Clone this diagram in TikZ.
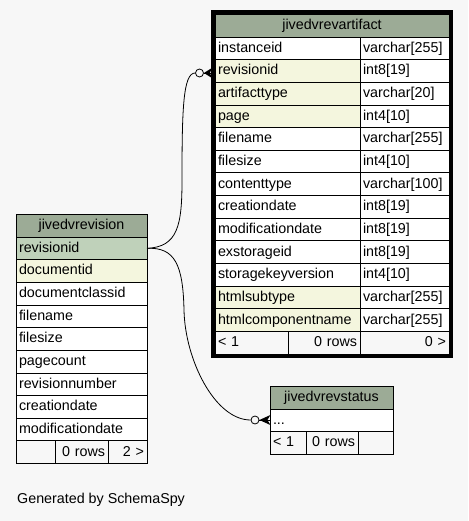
\documentclass[tikz,border=0pt]{standalone}
\usepackage{fontspec}
\setmainfont{Liberation Sans}
\usepackage{tikz}
\usetikzlibrary{positioning}
\definecolor{headgreen}{RGB}{156, 171, 150}
\definecolor{pkgreen}{RGB}{191, 209, 186}
\definecolor{fkbeige}{RGB}{244, 246, 222}
\definecolor{pagebg}{RGB}{247, 247, 247}
\newcommand{\cellfont}{\fontsize{14.3}{16}\selectfont}

\begin{document}
\begin{tikzpicture}[x=1pt, y=-1pt,
    % --- Stili delle celle ---
    cell/.style={draw=black, line width=0.8pt, fill=white, anchor=north west, outer sep=0pt,
        minimum height=22.65pt, inner xsep=3pt, inner ysep=0pt,
        text height=10.5pt, text depth=2.5pt, font=\cellfont},
    lcell/.style={cell, text width=#1, align=left},
    rcell/.style={cell, text width=#1, align=right},
    head/.style={cell, fill=headgreen, minimum height=23pt, text width=#1, align=center},
    pk/.style={fill=pkgreen},
    fk/.style={fill=fkbeige},
    foot/.style={fill=pagebg},
    ring/.style={circle, draw=black, line width=0.8pt, fill=pagebg, minimum size=8pt, inner sep=0pt}
]

% 1. Sfondo e riquadro della pagina
\useasboundingbox (0,0) rectangle (468,521);
\fill[pagebg] (0,0) rectangle (468,521);

% 2. Tabella jivedvrevartifact (con bordo spesso)
\node (art_head) [head=228] at (215,14) {jivedvrevartifact};
\node (art_instanceid) [lcell=139] at (art_head.south west) {instanceid};
\node (art_instanceid_t) [lcell=83] at (art_instanceid.north east) {varchar[255]};
\node (art_revisionid) [lcell=139, fk] at (art_instanceid.south west) {revisionid};
\node (art_revisionid_t) [lcell=83] at (art_revisionid.north east) {int8[19]};
\node (art_artifacttype) [lcell=139, fk] at (art_revisionid.south west) {artifacttype};
\node (art_artifacttype_t) [lcell=83] at (art_artifacttype.north east) {varchar[20]};
\node (art_page) [lcell=139, fk] at (art_artifacttype.south west) {page};
\node (art_page_t) [lcell=83] at (art_page.north east) {int4[10]};
\node (art_filename) [lcell=139] at (art_page.south west) {filename};
\node (art_filename_t) [lcell=83] at (art_filename.north east) {varchar[255]};
\node (art_filesize) [lcell=139] at (art_filename.south west) {filesize};
\node (art_filesize_t) [lcell=83] at (art_filesize.north east) {int4[10]};
\node (art_contenttype) [lcell=139] at (art_filesize.south west) {contenttype};
\node (art_contenttype_t) [lcell=83] at (art_contenttype.north east) {varchar[100]};
\node (art_creationdate) [lcell=139] at (art_contenttype.south west) {creationdate};
\node (art_creationdate_t) [lcell=83] at (art_creationdate.north east) {int8[19]};
\node (art_moddate) [lcell=139] at (art_creationdate.south west) {modificationdate};
\node (art_moddate_t) [lcell=83] at (art_moddate.north east) {int8[19]};
\node (art_exstorageid) [lcell=139] at (art_moddate.south west) {exstorageid};
\node (art_exstorageid_t) [lcell=83] at (art_exstorageid.north east) {int8[19]};
\node (art_keyversion) [lcell=139] at (art_exstorageid.south west) {storagekeyversion};
\node (art_keyversion_t) [lcell=83] at (art_keyversion.north east) {int4[10]};
\node (art_subtype) [lcell=139, fk] at (art_keyversion.south west) {htmlsubtype};
\node (art_subtype_t) [lcell=83] at (art_subtype.north east) {varchar[255]};
\node (art_compname) [lcell=139, fk] at (art_subtype.south west) {htmlcomponentname};
\node (art_compname_t) [lcell=83] at (art_compname.north east) {varchar[255]};
\node (art_foot_1) [lcell=67, foot] at (art_compname.south west) {< 1};
\node (art_foot_2) [rcell=66, foot] at (art_foot_1.north east) {0 rows};
\node (art_foot_3) [rcell=83, foot] at (art_foot_2.north east) {0 >};
\draw[line width=4pt] (213,12) rectangle (451,356);

% 3. Tabella jivedvrevision
\node (rev_head) [head=125] at (16,214) {jivedvrevision};
\node (rev_revisionid) [lcell=125, pk] at (rev_head.south west) {revisionid};
\node (rev_documentid) [lcell=125, fk] at (rev_revisionid.south west) {documentid};
\node (rev_classid) [lcell=125] at (rev_documentid.south west) {documentclassid};
\node (rev_filename) [lcell=125] at (rev_classid.south west) {filename};
\node (rev_filesize) [lcell=125] at (rev_filename.south west) {filesize};
\node (rev_pagecount) [lcell=125] at (rev_filesize.south west) {pagecount};
\node (rev_number) [lcell=125] at (rev_pagecount.south west) {revisionnumber};
\node (rev_creationdate) [lcell=125] at (rev_number.south west) {creationdate};
\node (rev_moddate) [lcell=125] at (rev_creationdate.south west) {modificationdate};
\node (rev_foot_1) [lcell=33, foot] at (rev_moddate.south west) {};
\node (rev_foot_2) [rcell=47, foot] at (rev_foot_1.north east) {0 rows};
\node (rev_foot_3) [rcell=33, foot] at (rev_foot_2.north east) {2 >};

% 4. Tabella jivedvrevstatus
\node (stat_head) [head=117] at (270,386) {jivedvrevstatus};
\node (stat_dots) [lcell=117] at (stat_head.south west) {...};
\node (stat_foot_1) [lcell=30, foot] at (stat_dots.south west) {< 1};
\node (stat_foot_2) [rcell=46, foot] at (stat_foot_1.north east) {0 rows};
\node (stat_foot_3) [rcell=29, foot] at (stat_foot_2.north east) {};

% 5. Relazioni: cerchio e zampa di gallina verso le tabelle figlie
\node (art_ring) [ring] at (199.5,73) {};
\node (stat_ring) [ring] at (255,420) {};
\draw[line width=0.8pt] (rev_revisionid.east) .. controls (178,247) and (182,225) .. (182,180)
    .. controls (182,110) and (183,73) .. (art_ring.west);
\draw[line width=0.8pt] (rev_revisionid.east) .. controls (175,247) and (183,265) .. (184,310)
    .. controls (185,360) and (215,420) .. (stat_ring.west);
\fill (art_ring.east) -- ++(8,-5) -- ++(-2,5) -- ++(2,5) -- cycle;
\draw[line width=0.8pt] (art_ring.east) -- ++(8,0);
\fill (stat_ring.east) -- ++(11,-5) -- ++(-3,5) -- ++(3,5) -- cycle;
\draw[line width=0.8pt] (stat_ring.east) -- (stat_dots.west |- stat_ring.east);

% 6. Didascalia
\node (credit) [anchor=base west, inner sep=0pt, font=\cellfont] at (17,503) {Generated by SchemaSpy};
\end{tikzpicture}
\end{document}
